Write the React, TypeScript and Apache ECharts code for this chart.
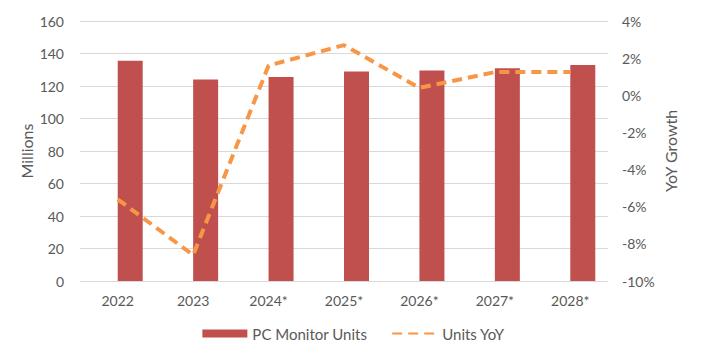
import React, { useEffect, useRef } from "react";
import * as echarts from "echarts";

const categories = ["2022", "2023", "2024*", "2025*", "2026*", "2027*", "2028*"];
const monitorUnits = [135.5, 124, 125.5, 129, 129.5, 131, 133];
const unitsYoY = [-5.6, -8.6, 1.6, 2.7, 0.4, 1.25, 1.25];
const emptySlot = categories.map(() => null);

const FONT = "Lato";
const TXT = "#595959";

export default function App() {
  const ref = useRef<HTMLDivElement>(null);
  useEffect(() => {
    const chart = echarts.init(ref.current!, null, { renderer: "svg" });
    chart.setOption({
      animation: false,
      textStyle: { fontFamily: FONT, color: TXT },
      grid: { left: 80, right: 99, top: 21, bottom: 77, containLabel: false, outerBoundsMode: "none" },
      legend: {
        bottom: 12,
        left: "center",
        itemWidth: 45,
        itemHeight: 8,
        itemGap: 24,
        textStyle: { fontFamily: FONT, fontSize: 15, color: TXT },
        data: [
          { name: "PC Monitor Units", icon: "rect" },
          { name: "Units YoY", itemStyle: { opacity: 0 } },
        ],
      },
      xAxis: {
        type: "category",
        data: categories,
        axisLine: { show: false },
        axisTick: { show: false },
        axisLabel: { fontFamily: FONT, fontSize: 14, color: TXT, margin: 12 },
      },
      yAxis: [
        {
          type: "value",
          min: 0,
          max: 160,
          interval: 20,
          name: "Millions",
          nameLocation: "middle",
          nameGap: 46,
          nameMoveOverlap: false,
          nameTextStyle: { fontFamily: FONT, fontSize: 16, color: TXT },
          axisLine: { show: false },
          axisTick: { show: false },
          axisLabel: { fontFamily: FONT, fontSize: 14, color: TXT, margin: 16 },
          splitLine: { lineStyle: { color: "#D9D9D9", width: 1 } },
        },
        {
          type: "value",
          min: -10,
          max: 4,
          interval: 2,
          name: "YoY Growth",
          nameLocation: "middle",
          nameGap: 54,
          nameMoveOverlap: false,
          nameRotate: 90,
          nameTextStyle: { fontFamily: FONT, fontSize: 16, color: TXT },
          axisLine: { show: false },
          axisTick: { show: false },
          axisLabel: {
            fontFamily: FONT,
            fontSize: 14,
            color: TXT,
            margin: 14,
            formatter: (v: number) => `${v}%`,
          },
          splitLine: { show: false },
        },
      ],
      series: [
        {
          name: "_empty",
          type: "bar",
          data: emptySlot,
          barWidth: 25,
          barGap: "0%",
          itemStyle: { color: "transparent" },
          silent: true,
        },
        {
          name: "PC Monitor Units",
          type: "bar",
          data: monitorUnits,
          barWidth: 25,
          barGap: "0%",
          itemStyle: { color: "#C0504D" },
        },
        {
          name: "Units YoY",
          type: "line",
          yAxisIndex: 1,
          data: unitsYoY,
          symbol: "none",
          lineStyle: { color: "#F79646", width: 4, type: [10, 6] },
          itemStyle: { color: "#F79646" },
        },
      ],
    });
    return () => chart.dispose();
  }, []);
  return <div ref={ref} style={{ width: 707, height: 358, margin: -8 }} />;
}
